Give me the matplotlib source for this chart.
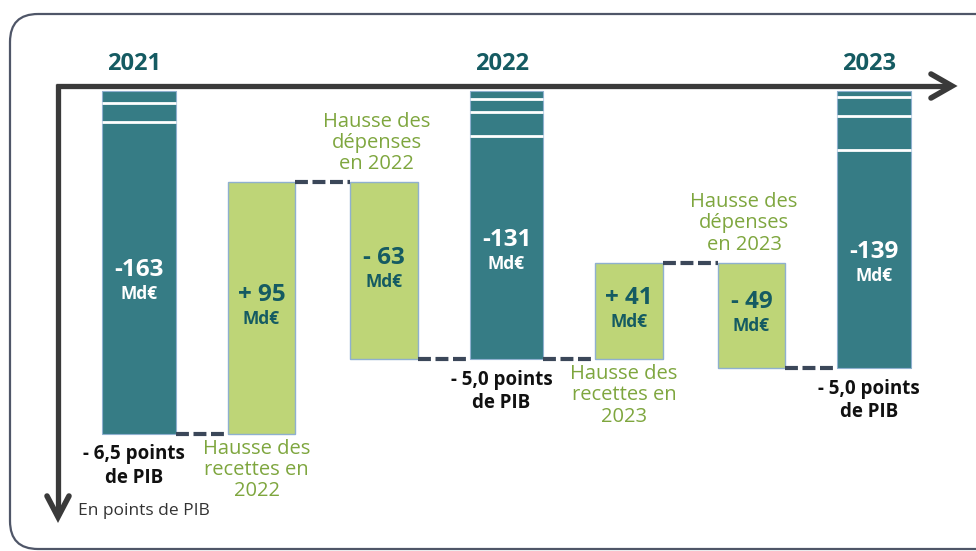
import matplotlib.pyplot as plt
from matplotlib.patches import FancyBboxPatch

plt.rcParams["font.family"] = ["Open Sans", "DejaVu Sans"]

# --- data ----------------------------------------------------------------
steps = ["2021", "recettes 2022", "dépenses 2022", "2022",
         "recettes 2023", "dépenses 2023", "2023"]
amounts = ["-163", "+ 95", "- 63", "-131", "+ 41", "- 49", "-139"]
is_total = [True, False, False, True, False, False, True]
# deficit level after each step, in points de PIB (axis points downwards)
levels = [6.5, 1.8, 5.1, 5.1, 3.3, 5.27, 5.27]
# white separators at the top of the total bars (points de PIB)
stripes_2021 = [0.31, 0.67]
stripes_2022 = [0.24, 0.49, 0.93]
stripes_2023 = [0.21, 0.57, 1.20]
pib_labels = ["- 6,5 points\nde PIB", "- 5,0 points\nde PIB", "- 5,0 points\nde PIB"]
hausse_labels = ["", "Hausse des\nrecettes en\n2022", "Hausse des\ndépenses\nen 2022", "",
                 "Hausse des\nrecettes en\n2023", "Hausse des\ndépenses\nen 2023", ""]
unit = "Md€"
axis_label = "En points de PIB"

stripes = {"2021": stripes_2021, "2022": stripes_2022, "2023": stripes_2023}
total_idx = [i for i, t in enumerate(is_total) if t]

# --- layout ---------------------------------------------------------------
W, H = 976, 551
FIRST_PX, STEP_PX = 139, 122.5     # x pixel of first bar, spacing
Y0_PX, PT_PX = 86, 53.5            # y pixel of the 0 line, pixels per point
TOP_GAP = 0.09

TEAL = "#367c85"
GREEN = "#bed577"
GREEN_TXT = "#7ea63e"
DARK_TEAL = "#155b62"
AXIS = "#3a3a3a"
DASH = "#3b4759"

fig = plt.figure(figsize=(W / 100, H / 100), dpi=100)
deco = fig.add_axes([0, 0, 1, 1])
deco.set_xlim(0, W)
deco.set_ylim(H, 0)
deco.axis("off")

ax = fig.add_axes([0, 0, 1, 1])
ax.patch.set_alpha(0)
ax.axis("off")
ax.set_xlim(-FIRST_PX / STEP_PX, (W - FIRST_PX) / STEP_PX)
ax.set_ylim((H - Y0_PX) / PT_PX, -Y0_PX / PT_PX)

# frame (right side runs off the picture) and arrows
deco.add_patch(FancyBboxPatch((10, 14), 1000, 535,
                              boxstyle="round,pad=0,rounding_size=28",
                              fill=False, ec="#4f5668", lw=1.6))
deco.plot([55.5, 951], [86, 86], color=AXIS, lw=3.8, solid_capstyle="butt")
deco.plot([58, 58], [84, 515], color=AXIS, lw=3.8, solid_capstyle="butt")
deco.plot([931, 952, 931], [74, 86, 98], color=AXIS, lw=4,
          solid_capstyle="round", solid_joinstyle="miter")
deco.plot([47, 58, 69], [496, 517, 496], color=AXIS, lw=4,
          solid_capstyle="round", solid_joinstyle="miter")
deco.text(78, 511, axis_label, ha="left", va="center", fontsize=12.5, color="#333333")

widths = [0.6 if t else 0.55 for t in is_total]

for i, step in enumerate(steps):
    w = widths[i]
    if is_total[i]:
        start, end = TOP_GAP, levels[i]
        ax.bar(i, end - start, bottom=start, width=w, color=TEAL,
               edgecolor="#8fb0cf", lw=0.8)
        for s in stripes[step]:
            ax.plot([i - w / 2, i + w / 2], [s, s], color="white", lw=2.0,
                    solid_capstyle="butt")
        mid = (stripes[step][-1] + end) / 2 + 0.1
        num_color = "white"
        ax.text(i - 0.04, -0.42, step, ha="center", va="center",
                fontsize=17, fontweight="bold", color=DARK_TEAL)
        ax.text(i - 0.04, end + 0.2, pib_labels[total_idx.index(i)],
                ha="center", va="top", fontsize=13.5, fontweight="bold",
                color="#111111", linespacing=1.25)
    else:
        start, end = levels[i - 1], levels[i]
        lo, hi = min(start, end), max(start, end)
        ax.bar(i, hi - lo, bottom=lo, width=w, color=GREEN,
               edgecolor="#8fb0cf", lw=1.0)
        mid = (lo + hi) / 2
        num_color = DARK_TEAL
        if end < start:   # revenue: label below the bar
            ax.text(i - 0.04, start + 0.1, hausse_labels[i], ha="center", va="top",
                    fontsize=14.5, color=GREEN_TXT, linespacing=1.08)
        else:             # spending: label above the bar
            ax.text(i - 0.06, start - 0.15, hausse_labels[i], ha="center", va="bottom",
                    fontsize=14.5, color=GREEN_TXT, linespacing=1.08)
    ax.text(i, mid - 0.24, amounts[i], ha="center", va="center",
            fontsize=17.5, fontweight="bold", color=num_color)
    ax.text(i, mid + 0.21, unit, ha="center", va="center",
            fontsize=12.5, fontweight="bold", color=num_color)

# dashed connectors between bars
for i in range(len(steps) - 1):
    y = levels[i]
    ax.plot([i + widths[i] / 2, i + 1 - widths[i + 1] / 2], [y, y], color=DASH,
            lw=3, linestyle=(0, (3.1, 1.1)), dash_capstyle="butt")

fig.savefig("out.png", dpi=100)
